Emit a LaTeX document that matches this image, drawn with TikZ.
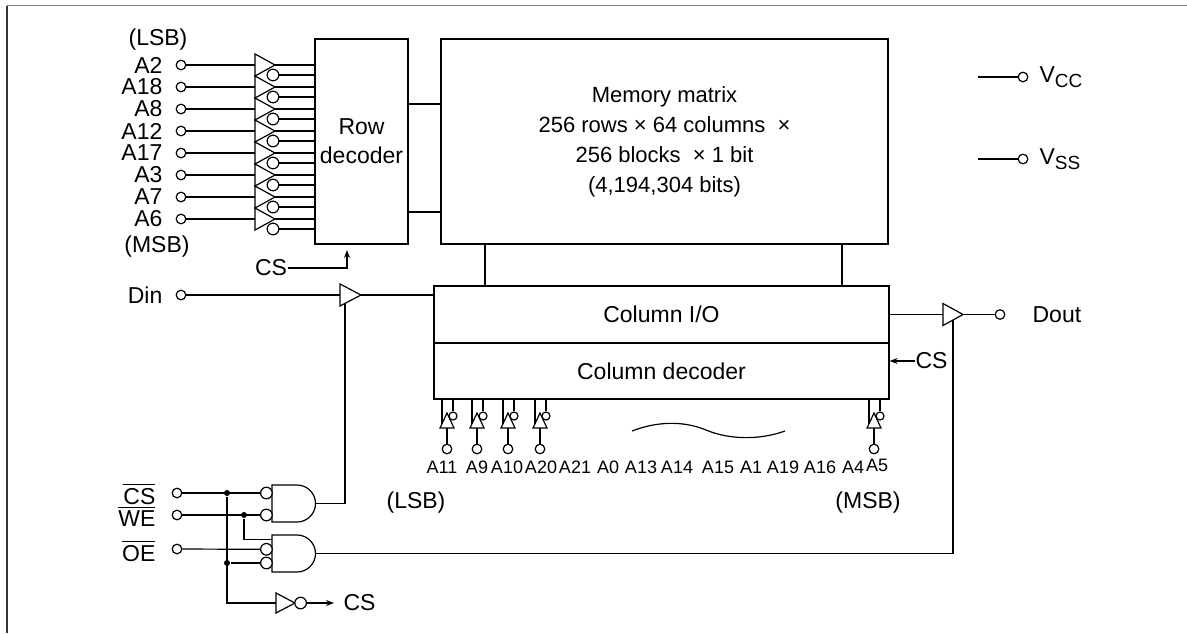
\documentclass[tikz,border=0pt]{standalone}
\usepackage{fontspec}
\setmainfont{Liberation Sans}
\usepackage{amsmath}
\usetikzlibrary{arrows.meta}

\tikzset{
	term/.style={circle, draw, fill=white, inner sep=0pt, minimum size=4.8pt},
	bub/.style={circle, draw, fill=white, inner sep=0pt, minimum size=5.8pt},
	jdot/.style={circle, fill, inner sep=0pt, minimum size=3pt},
	blk/.style={draw, inner sep=0pt, align=center},
	lbl/.style={inner sep=0pt},
	tip/.style={-{Stealth[length=4pt, width=3pt]}}
}

\begin{document}
\begin{tikzpicture}[x=0.5pt, y=-0.5pt, line width=0.6pt, font=\fontsize{11.5}{14.5}\selectfont]
	\useasboundingbox (0,0) rectangle (1187,633);
	\draw[gray, line width=0.85pt] (7,5.5) -- (1187,5.5);
	\draw[black!80, line width=0.65pt] (7,5.5) -- (7,633);
	\node[blk, minimum width=46.5pt, minimum height=102.5pt] (rowdec) at (361.5,141.5) {Row\\decoder};
	\node[blk, minimum width=223.5pt, minimum height=102.5pt, font=\fontsize{11}{15}\selectfont] (mem) at (664.5,141.5) {Memory matrix\\256 rows × 64 columns\ \ ×\\256 blocks\ \ × 1 bit\\(4,194,304 bits)};
	\node[blk, minimum width=227.5pt, minimum height=28.5pt] (colio) at (661.5,314.5) {Column I/O};
	\node[blk, minimum width=227.5pt, minimum height=28pt] (coldec) at (661.5,371) {Column decoder};
	\draw (rowdec.east |- 0,104) -- (mem.west |- 0,104);
	\draw (rowdec.east |- 0,212) -- (mem.west |- 0,212);
	\draw (mem.south -| 485,0) -- (colio.north -| 485,0);
	\draw (mem.south -| 842,0) -- (colio.north -| 842,0);
	\foreach \lab [count=\i from 0] in {A2,A18,A8,A12,A17,A3,A7,A6}{
		\pgfmathsetmacro{\yy}{65+22*\i}
		\node[term] (ra\i) at (181,\yy) {};
		\node[lbl, anchor=east] (ral\i) at (163,\yy) {\lab};
		\coordinate (rbi\i) at (255,\yy);
		\coordinate (rbo\i) at (275,\yy);
		\draw (255,\yy-11) -- (rbo\i) -- (255,\yy+11) -- cycle;
		\node[bub] (rbn\i) at (273,\yy+10) {};
		\draw (ra\i) -- (rbi\i);
		\draw (rbo\i) -- (rbo\i -| rowdec.west);
		\draw (rbn\i) -- (rbn\i -| rowdec.west);
	}
	\node[lbl] (rlsb) at (158,40) {(LSB)};
	\node[lbl] (rmsb) at (157,247) {(MSB)};
	\node[lbl] (csrow) at (271,268) {CS};
	\coordinate (csrowtip) at (347,250);
	\draw[tip] (csrow.east) -| (csrowtip);
	\node[term] (din) at (181,295) {};
	\node[lbl, anchor=east] (dinl) at (163,295) {Din};
	\coordinate (dbi) at (340,295);
	\coordinate (dbo) at (361,295);
	\coordinate (dbe) at (345,303.4);
	\draw (340,284) -- (dbo) -- (340,306) -- cycle;
	\draw (din) -- (dbi);
	\draw (dbo) -- (dbo -| colio.west);
	\coordinate (obi) at (943,314.5);
	\coordinate (obo) at (963,314.5);
	\coordinate (obe) at (953,320);
	\draw (943,303.5) -- (obo) -- (943,325.5) -- cycle;
	\draw (colio.east) -- (obi);
	\node[term] (dout) at (1000,314.5) {};
	\node[lbl, anchor=west] (doutl) at (1032,314.5) {Dout};
	\draw (obo) -- (dout);
	\node[lbl, anchor=west] (cscol) at (915,361) {CS};
	\draw[tip] (cscol.west) -- (cscol.west -| coldec.east);
	\node[term] (vcc) at (1023,77) {};
	\coordinate (vccw) at (978,77);
	\draw (vccw) -- (vcc);
	\node[lbl, anchor=west] (vccl) at (1039,77) {V\raisebox{-0.45ex}{\fontsize{9.5}{10}\selectfont CC}};
	\node[term] (vss) at (1023,159) {};
	\coordinate (vssw) at (978,159);
	\draw (vssw) -- (vss);
	\node[lbl, anchor=west] (vssl) at (1039,159) {V\raisebox{-0.45ex}{\fontsize{9.5}{10}\selectfont SS}};
	\foreach \cx [count=\k] in {447,477,508,540,874}{
		\draw (\cx-7,428) -- (\cx,413) -- (\cx+7,428) -- cycle;
		\coordinate (cbt\k) at (\cx-5,423.7);
		\coordinate (cbi\k) at (\cx,428);
		\node[bub, minimum size=4pt] (cbn\k) at (\cx+6,416) {};
		\node[term] (ca\k) at (\cx,449) {};
		\draw (cbt\k |- coldec.south) -- (cbt\k);
		\draw (cbn\k |- coldec.south) -- (cbn\k);
		\draw (cbi\k) -- (ca\k);
	}
	\foreach \xx/\lab in {442/A11, 477/A9, 507/A10, 541/A20, 575/A21, 608/A0, 641/A13, 677/A14, 718/A15, 751/A1, 783/A19, 820/A16, 853/A4}{
		\node[lbl, font=\fontsize{9}{10}\selectfont] (cl\lab) at (\xx,467) {\lab};
	}
	\node[lbl, font=\fontsize{9}{10}\selectfont] (clA5) at (877,465) {A5};
	\draw (632,431) .. controls (655,422) and (682,420) .. (706,430) .. controls (730,440) and (760,440) .. (785,431);
	\node[lbl] (clsb) at (416,503) {(LSB)};
	\node[lbl] (cmsb) at (868,503) {(MSB)};
	\node[term] (csn) at (177,493) {};
	\node[term] (wen) at (177,515) {};
	\node[term] (oen) at (177,549) {};
	\node[lbl, anchor=east] (csnl) at (156,494) {$\overline{\mbox{CS}}$};
	\node[lbl, anchor=east] (wenl) at (156,516) {$\overline{\mbox{WE}}$};
	\node[lbl, anchor=east] (oenl) at (156,551) {$\overline{\mbox{OE}}$};
	\draw (272,485) -- (297,485) arc[start angle=90, end angle=-90, radius=9.25pt] -- (272,522) -- cycle;
	\coordinate (a1o) at (315.5,503.5);
	\node[bub] (a1n1) at (266.4,493) {};
	\node[bub] (a1n2) at (266.4,515) {};
	\draw (272,535) -- (297,535) arc[start angle=90, end angle=-90, radius=9.25pt] -- (272,572) -- cycle;
	\coordinate (a2o) at (315.5,553.5);
	\coordinate (a2i) at (272,539.3);
	\node[bub] (a2n1) at (266.4,549.3) {};
	\node[bub] (a2n2) at (266.4,563) {};
	\draw (276,593) -- (295,603) -- (276,613) -- cycle;
	\coordinate (invi) at (276,603);
	\node[bub] (invn) at (300.6,603) {};
	\coordinate (invtip) at (334,603);
	\node[lbl, anchor=west] (csout) at (343,603) {CS};
	\node[jdot] (j1) at (227,493) {};
	\node[jdot] (j2) at (227,563) {};
	\node[jdot] (j3) at (244,515) {};
	\draw (csn) -- (a1n1);
	\draw (wen) -- (a1n2);
	\draw (oen) -- (a2n1);
	\draw (j1) |- (invi);
	\draw (j2) -- (a2n2);
	\draw (j3) |- (a2i);
	\draw[tip] (invn) -- (invtip);
	\draw (a1o) -| (dbe);
	\draw (a2o) -| (obe);
\end{tikzpicture}
\end{document}
